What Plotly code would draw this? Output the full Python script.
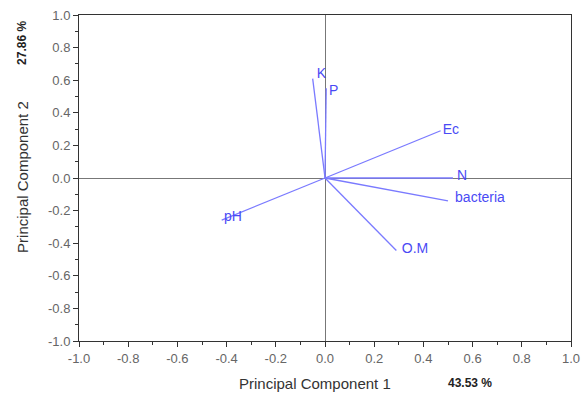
import plotly.graph_objects as go

variables = ["K", "P", "Ec", "N", "bacteria", "O.M", "pH"]
pc1 = [-0.05, 0.005, 0.47, 0.52, 0.50, 0.29, -0.42]
pc2 = [0.61, 0.55, 0.29, 0.0, -0.14, -0.445, -0.258]
ticks = [-1.0, -0.8, -0.6, -0.4, -0.2, 0.0, 0.2, 0.4, 0.6, 0.8, 1.0]
tick_text = [f"{t:.1f}" for t in ticks]
var1 = "43.53 %"
var2 = "27.86 %"

line_col = "#7a7aff"
text_col = "#4a4af5"

fig = go.Figure()
for name, x, y in zip(variables, pc1, pc2):
    fig.add_trace(go.Scatter(x=[0, x], y=[0, y], mode="lines",
                             line=dict(color=line_col, width=1.3),
                             showlegend=False, hoverinfo="skip"))
label_pos = {
    "K": (-0.015, 0.635), "P": (0.035, 0.53), "Ec": (0.512, 0.294), "N": (0.557, 0.008),
    "bacteria": (0.63, -0.123), "O.M": (0.366, -0.44), "pH": (-0.374, -0.245),
}
fig.add_trace(go.Scatter(
    x=[label_pos[v][0] for v in variables], y=[label_pos[v][1] for v in variables],
    mode="text", text=variables, textposition="middle center",
    textfont=dict(color=text_col, size=14, family="Liberation Sans, Arial"),
    showlegend=False, hoverinfo="skip"))

axis_common = dict(
    range=[-1, 1], tickvals=ticks, ticktext=tick_text,
    ticks="outside", ticklen=5, tickcolor="#333", tickwidth=1,
    minor=dict(dtick=0.1, ticks="outside", ticklen=3, tickcolor="#333"),
    showgrid=False, zeroline=True, zerolinecolor="#777", zerolinewidth=1,
    showline=True, linecolor="#333", linewidth=1, mirror=True,
    automargin=False, ticklabeloverflow="allow",
    tickfont=dict(color="#666", size=13, family="Liberation Sans, Arial"),
)
fig.update_layout(
    width=583, height=398,
    margin=dict(l=79, r=12, t=15, b=57),
    paper_bgcolor="white", plot_bgcolor="white",
    xaxis=dict(**axis_common),
    yaxis=dict(**axis_common),
)
fig.add_annotation(text="Principal Component 1", xref="paper", yref="paper",
                   x=0.48, y=-0.129, showarrow=False, xanchor="center", yanchor="middle",
                   font=dict(size=15, color="#333", family="Liberation Sans, Arial"))
fig.add_annotation(text="<b>" + var1 + "</b>", xref="paper", yref="paper",
                   x=0.795, y=-0.129, showarrow=False, xanchor="center", yanchor="middle",
                   font=dict(size=12, color="#222", family="Liberation Sans, Arial"))
fig.add_annotation(text="Principal Component 2", xref="paper", yref="paper",
                   x=-0.116, y=0.503, showarrow=False, textangle=-90,
                   xanchor="center", yanchor="middle",
                   font=dict(size=15, color="#333", family="Liberation Sans, Arial"))
fig.add_annotation(text="<b>" + var2 + "</b>", xref="paper", yref="paper",
                   x=-0.116, y=0.914, showarrow=False, textangle=-90,
                   xanchor="center", yanchor="middle",
                   font=dict(size=12, color="#222", family="Liberation Sans, Arial"))

# remove the default page margin and scrollbars so the figure sits at the window's top-left corner
fig.write_html(
    "out.html",
    config={"displayModeBar": False},
    post_script="document.body.style.margin='0';document.body.style.overflow='hidden';"
                "document.documentElement.style.overflow='hidden';",
)
